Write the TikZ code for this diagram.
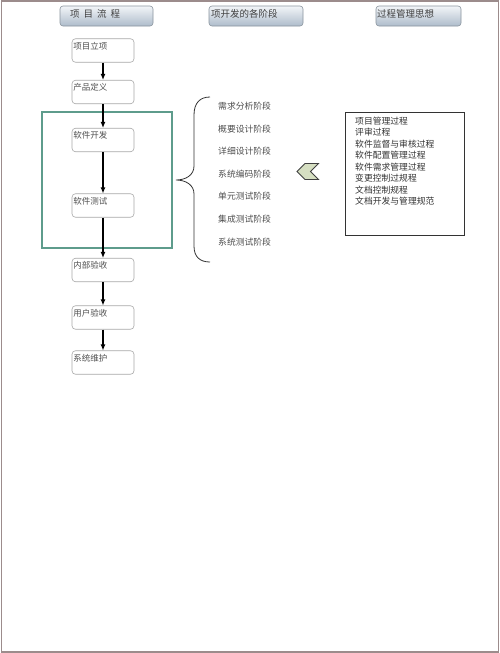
\documentclass[tikz,border=0pt]{standalone}
\usepackage{fontspec}
\setmainfont{Noto Sans CJK SC}
\usetikzlibrary{arrows.meta}
\definecolor{frameC}{HTML}{9C8C8C}
\definecolor{hdrTop}{HTML}{F2F5F8}
\definecolor{hdrBot}{HTML}{AEBCCB}
\definecolor{hdrLine}{HTML}{8A949E}
\definecolor{boxLine}{HTML}{A8A8A8}
\definecolor{txtC}{HTML}{505050}
\definecolor{grpC}{HTML}{5E9C8C}
\definecolor{chevC}{HTML}{D6DFC2}
\tikzset{
  hdrbox/.style={draw=hdrLine, line width=0.6pt, rounded corners=3pt,
    top color=hdrTop, bottom color=hdrBot, minimum height=20pt, inner sep=0pt},
  hdrtext/.style={font=\fontsize{9.5}{10}\selectfont, text=black!75, inner sep=0pt, anchor=west},
  flowbox/.style={draw=boxLine, line width=0.6pt, rounded corners=3.5pt, fill=white,
    minimum width=62pt, minimum height=23.5pt, inner sep=0pt},
  flowtext/.style={font=\fontsize{8.5}{9}\selectfont, text=txtC, inner sep=0pt,
    anchor=north west, xshift=1.5pt, yshift=-3.5pt},
  arr/.style={-{Latex[length=6pt,width=5pt]}, line width=1.1pt, black},
  stagetext/.style={font=\fontsize{8.8}{9}\selectfont, text=txtC, inner sep=0pt, anchor=west},
}
\begin{document}
\begin{tikzpicture}[x=1pt,y=-1pt]
\useasboundingbox (0,0) rectangle (500,653);
\fill[white] (0,0) rectangle (500,653);
\draw[frameC, line width=1.4pt] (1.2,1) rectangle (498.6,651.8);

% headers
\node[hdrbox, minimum width=93pt] (h1) at (106.5,16) {};
\node[hdrtext] (h1t) at (70,14) {项\hspace{4pt}目\hspace{4pt}流\hspace{4pt}程};
\node[hdrbox, minimum width=94pt] (h2) at (256,16) {};
\node[hdrtext] (h2t) at (211,14) {项开发的各阶段};
\node[hdrbox, minimum width=85pt] (h3) at (418.5,16) {};
\node[hdrtext] (h3t) at (377,14) {过程管理思想};

% group rectangle
\node[draw=grpC, line width=1.2pt, minimum width=130pt, minimum height=136pt, inner sep=0pt] (grp) at (107,180) {};

% flow boxes
\node[flowbox, label={[flowtext, name=t1]north west:项目立项}] (b1) at (103,50.5) {};
\node[flowbox, label={[flowtext, name=t2]north west:产品定义}] (b2) at (103,92) {};
\node[flowbox, label={[flowtext, name=t3]north west:软件开发}] (b3) at (103,140) {};
\node[flowbox, label={[flowtext, name=t4]north west:软件测试}] (b4) at (103,205.5) {};
\node[flowbox, label={[flowtext, name=t5]north west:内部验收}] (b5) at (103,270) {};
\node[flowbox, label={[flowtext, name=t6]north west:用户验收}] (b6) at (103,317.5) {};
\node[flowbox, label={[flowtext, name=t7]north west:系统维护}] (b7) at (103,362.5) {};

\draw[arr] (b1) -- (b2);
\draw[arr] (b2) -- (b3);
\draw[arr] (b3) -- (b4);
\draw[arr] (b4) -- (b5);
\draw[arr] (b5) -- (b6);
\draw[arr] (b6) -- (b7);

% brace
\draw[black!80, line width=0.8pt] (210,97) .. controls (200,97) and (194,103) .. (194,115)
  -- (194,166) .. controls (194,175) and (186,180) .. (176,180)
  .. controls (186,180) and (194,185) .. (194,194)
  -- (194,246) .. controls (194,257) and (200,262) .. (210,262);

% stages
\node[stagetext] (s1) at (218,106.5) {需求分析阶段};
\node[stagetext] (s2) at (218,129) {概要设计阶段};
\node[stagetext] (s3) at (218,151.5) {详细设计阶段};
\node[stagetext] (s4) at (218,174) {系统编码阶段};
\node[stagetext] (s5) at (218,196.5) {单元测试阶段};
\node[stagetext] (s6) at (218,219) {集成测试阶段};
\node[stagetext] (s7) at (218,242) {系统测试阶段};

% chevron
\draw[fill=chevC, draw=black!75, line width=0.9pt, line join=miter]
  (297,171.5) -- (305,163.5) -- (318.5,163.5) -- (310.5,171.5) -- (318.5,179.5) -- (305,179.5) -- cycle;

% process box
\node[draw=black!80, line width=0.8pt, minimum width=119pt, minimum height=123pt, inner sep=0pt] (pb) at (404.5,173.5) {};
\node[anchor=north west, align=left, inner sep=0pt, text=black!80,
  font=\fontsize{8.8}{11.5}\selectfont] (pt) at (355,116.5) {项目管理过程\\评审过程\\软件监督与审核过程\\软件配置管理过程\\软件需求管理过程\\变更控制过规程\\文档控制规程\\文档开发与管理规范};
\end{tikzpicture}
\end{document}
